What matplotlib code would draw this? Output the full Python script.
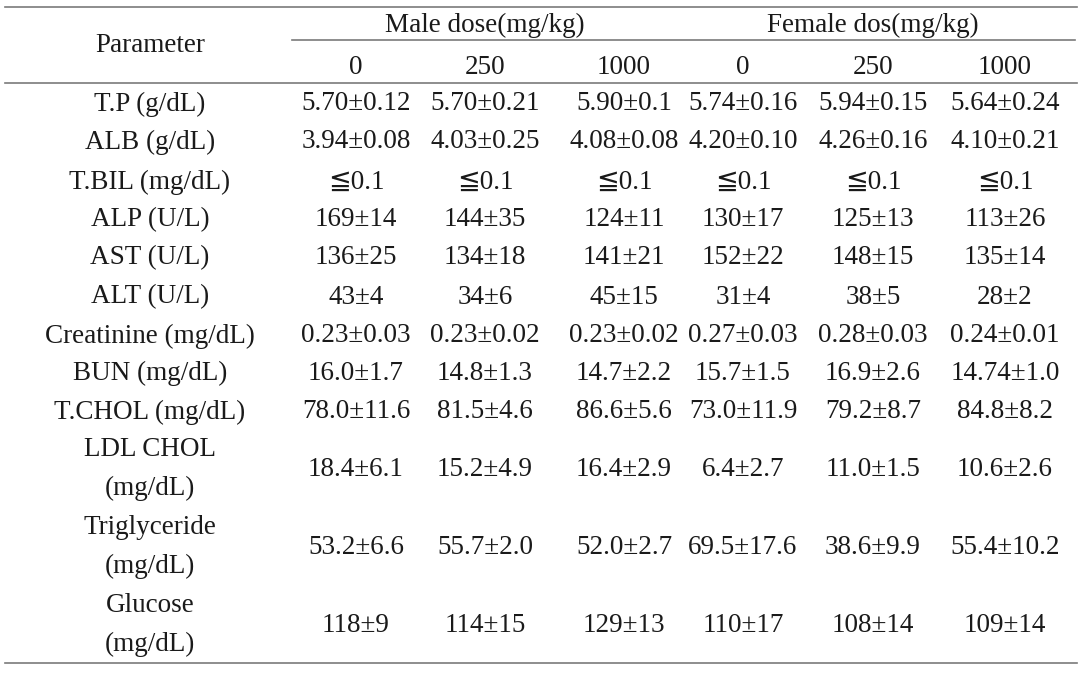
import matplotlib.pyplot as plt

# table content
params = ['T.P (g/dL)', 'ALB (g/dL)', 'T.BIL (mg/dL)', 'ALP (U/L)', 'AST (U/L)',
          'ALT (U/L)', 'Creatinine (mg/dL)', 'BUN (mg/dL)', 'T.CHOL (mg/dL)',
          'LDL CHOL\n(mg/dL)', 'Triglyceride\n(mg/dL)', 'Glucose\n(mg/dL)']
groups = ['Male dose(mg/kg)', 'Female dos(mg/kg)']
doses = ['0', '250', '1000', '0', '250', '1000']

male_0 = ['5.70±0.12', '3.94±0.08', '≦0.1', '169±14', '136±25', '43±4',
          '0.23±0.03', '16.0±1.7', '78.0±11.6', '18.4±6.1', '53.2±6.6', '118±9']
male_250 = ['5.70±0.21', '4.03±0.25', '≦0.1', '144±35', '134±18', '34±6',
            '0.23±0.02', '14.8±1.3', '81.5±4.6', '15.2±4.9', '55.7±2.0', '114±15']
male_1000 = ['5.90±0.1', '4.08±0.08', '≦0.1', '124±11', '141±21', '45±15',
             '0.23±0.02', '14.7±2.2', '86.6±5.6', '16.4±2.9', '52.0±2.7', '129±13']
female_0 = ['5.74±0.16', '4.20±0.10', '≦0.1', '130±17', '152±22', '31±4',
            '0.27±0.03', '15.7±1.5', '73.0±11.9', '6.4±2.7', '69.5±17.6', '110±17']
female_250 = ['5.94±0.15', '4.26±0.16', '≦0.1', '125±13', '148±15', '38±5',
              '0.28±0.03', '16.9±2.6', '79.2±8.7', '11.0±1.5', '38.6±9.9', '108±14']
female_1000 = ['5.64±0.24', '4.10±0.21', '≦0.1', '113±26', '135±14', '28±2',
               '0.24±0.01', '14.74±1.0', '84.8±8.2', '10.6±2.6', '55.4±10.2', '109±14']
columns = [male_0, male_250, male_1000, female_0, female_250, female_1000]

# layout (pixels)
W, H = 1082, 674
col_x = [356, 485, 624, 743, 873, 1005]
param_x = 150
group_x = [485, 873]
row_y = [104, 142, 182, 220, 258, 297, 336, 373, 412, 469, 547, 625]
font = ['Liberation Serif', 'DejaVu Serif', 'DejaVu Sans', 'Noto Sans CJK KR']
fs = 19.5
line_col = '#7a7a7a'

fig = plt.figure(figsize=(W / 100, H / 100), dpi=100)
ax = fig.add_axes([0, 0, 1, 1])
ax.set_xlim(0, W)
ax.set_ylim(H, 0)
ax.axis('off')

# rules
ax.plot([5, 1077], [7, 7], color=line_col, lw=1.2)
ax.plot([292, 1075], [40, 40], color=line_col, lw=1.2)
ax.plot([5, 1077], [83, 83], color=line_col, lw=1.2)
ax.plot([5, 1077], [663, 663], color=line_col, lw=1.2)

kw = dict(ha='center', va='center', fontsize=fs, family=font, color='#1a1a1a')
ax.text(param_x, 46, 'Parameter', **kw)
for g, gx in zip(groups, group_x):
    ax.text(gx, 25, g, **kw)
for d, cx in zip(doses, col_x):
    ax.text(cx, 67, d, **kw)

for i, (p, y) in enumerate(zip(params, row_y)):
    ax.text(param_x, y, p, linespacing=1.75, **kw)
    for col, cx in zip(columns, col_x):
        ax.text(cx, y, col[i], **kw)

fig.savefig('out.png', dpi=100)
